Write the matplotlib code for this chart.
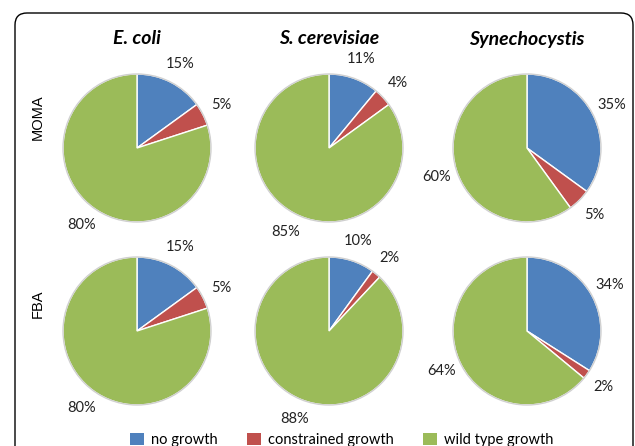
import matplotlib
matplotlib.use("Agg")
import matplotlib.pyplot as plt
from matplotlib.patches import FancyBboxPatch, Patch, Circle
from matplotlib.transforms import IdentityTransform

# data
organisms = ["E. coli", "S. cerevisiae", "Synechocystis"]
methods = ["MOMA", "FBA"]
categories = ["no growth", "constrained growth", "wild type growth"]
moma_values = [[15, 5, 80], [11, 4, 85], [35, 5, 60]]
fba_values = [[15, 5, 80], [10, 2, 88], [34, 2, 64]]
colors = ["#4F81BD", "#C0504D", "#9BBB59"]

W, H = 635, 446
col_x = [137, 329, 527]      # pie centres (px from left)
row_y = [148, 331]           # pie centres (px from top)
R = 74                       # pie radius in px
half = 100

label_font = ["Lato", "DejaVu Sans"]

fig = plt.figure(figsize=(W / 100, H / 100), dpi=100)

for r, vals_rows in enumerate([moma_values, fba_values]):
    for c, vals in enumerate(vals_rows):
        cx, cy = col_x[c], row_y[r]
        ax = fig.add_axes([(cx - half) / W, 1 - (cy + half) / H, 2 * half / W, 2 * half / H])
        wedges, texts, autotexts = ax.pie(
            vals, colors=colors, startangle=90, counterclock=False, radius=1,
            autopct="%.0f%%", pctdistance=1.28,
            wedgeprops=dict(edgecolor="white", linewidth=1),
            textprops=dict(fontsize=10.5, family=label_font, color="#222222"))
        for t in autotexts:
            t.set_clip_on(False)
        ax.add_patch(Circle((0, 0), 1.0, fill=False, edgecolor="#d0d0d0", linewidth=1))
        ax.set_xlim(-half / R, half / R)
        ax.set_ylim(-half / R, half / R)
        ax.axis("off")

for c, name in enumerate(organisms):
    fig.text(col_x[c] / W, 1 - 39 / H, name, ha="center", va="center",
             fontsize=14, fontweight="bold", fontstyle="italic", family=label_font)

row_label_y = [117, 304]
for r, m in enumerate(methods):
    fig.text(38 / W, 1 - row_label_y[r] / H, m, rotation=90, ha="center", va="center",
             fontsize=10.5, family="Liberation Sans")

handles = [Patch(facecolor=col, edgecolor="none", label=lab) for col, lab in zip(colors, categories)]
fig.legend(handles=handles, loc="center", bbox_to_anchor=(342 / W, 6 / H), ncol=3,
           frameon=False, handlelength=0.95, handleheight=0.95, handletextpad=0.5,
           columnspacing=2.0, prop=dict(family=label_font, size=10.5))

border = FancyBboxPatch((15, -40), 618, (H - 13) + 40,
                        boxstyle="round,pad=0,rounding_size=12",
                        transform=IdentityTransform(), fill=False,
                        edgecolor="black", linewidth=1)
fig.add_artist(border)

fig.savefig("out.png", dpi=100)
